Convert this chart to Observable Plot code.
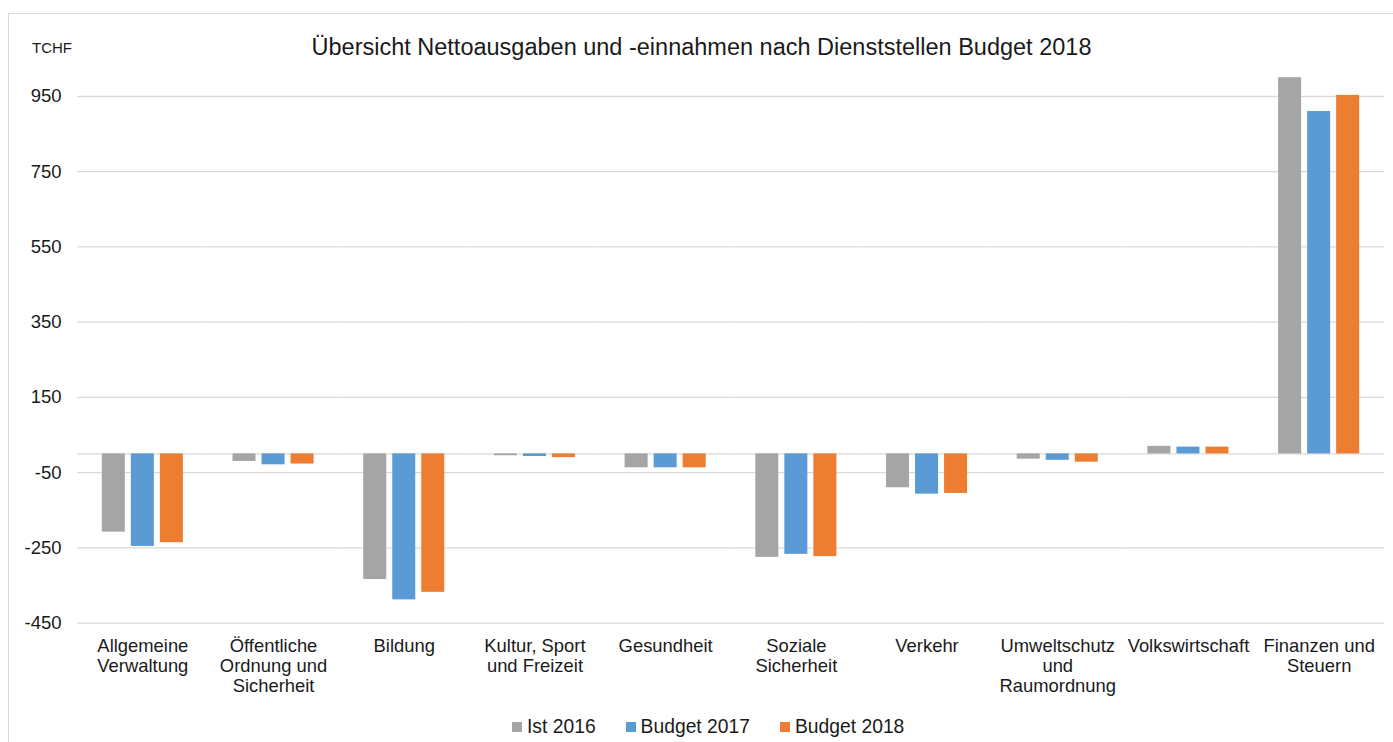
<!DOCTYPE html>
<html>
<head>
<meta charset="utf-8">
<script src="https://cdn.jsdelivr.net/npm/d3@7"></script>
<script src="https://cdn.jsdelivr.net/npm/@observablehq/plot@0.6"></script>
<style>
  html, body { margin: 0; padding: 0; background: #fff; }
  #wrap { position: relative; width: 1393px; height: 742px; overflow: hidden;
          font-family: "Liberation Sans", Arial, sans-serif; color: #1a1a1a; }
  #frame { position: absolute; left: 8px; top: 13px; width: 1400px; height: 760px;
           border-left: 1px solid #d9d9d9; border-top: 1px solid #d9d9d9; }
  #tchf { position: absolute; left: 32px; top: 40px; font-size: 15px; line-height: 15px; }
  #title { position: absolute; left: 0; top: 36px; width: 1403px; text-align: center;
           font-size: 23.5px; line-height: 23.5px; white-space: nowrap; }
  #chart { position: absolute; left: 0; top: 60px; }
  #legend { position: absolute; left: 512px; top: 717px; display: flex; align-items: center;
            font-size: 19.3px; line-height: 19.3px; white-space: nowrap; }
  .item { display: inline-flex; align-items: center; margin-right: 30px; }
  .sw { width: 10px; height: 10px; margin-right: 5px; display: inline-block; }
</style>
</head>
<body>
<div id="wrap">
  <div id="frame"></div>
  <div id="tchf">TCHF</div>
  <div id="title">Übersicht Nettoausgaben und -einnahmen nach Dienststellen Budget 2018</div>
  <div id="chart"></div>
  <div id="legend"></div>
</div>
<script>
const categories = ["Allgemeine Verwaltung", "Öffentliche Ordnung und Sicherheit", "Bildung",
  "Kultur, Sport und Freizeit", "Gesundheit", "Soziale Sicherheit", "Verkehr",
  "Umweltschutz und Raumordnung", "Volkswirtschaft", "Finanzen und Steuern"];
const categoryLabels = ["Allgemeine\nVerwaltung", "Öffentliche\nOrdnung und\nSicherheit", "Bildung",
  "Kultur, Sport\nund Freizeit", "Gesundheit", "Soziale\nSicherheit", "Verkehr",
  "Umweltschutz\nund\nRaumordnung", "Volkswirtschaft", "Finanzen und\nSteuern"];
const seriesNames = ["Ist 2016", "Budget 2017", "Budget 2018"];
const seriesColors = ["#A5A5A5", "#5B9BD5", "#ED7D31"];
const ist2016    = [-208, -20, -334,  -5, -37, -275,  -90, -14, 20, 1000];
const budget2017 = [-246, -29, -388,  -7, -37, -267, -107, -17, 18,  910];
const budget2018 = [-236, -27, -368, -10, -37, -273, -105, -22, 18,  953];
const yTicks = [950, 750, 550, 350, 150, -50, -250, -450];

const seriesValues = [ist2016, budget2017, budget2018];
const rows = [];
categories.forEach((c, i) => {
  seriesNames.forEach((s, j) => rows.push({cat: c, series: s, value: seriesValues[j][i]}));
});
const labelRows = categories.map((c, i) => ({cat: c, label: categoryLabels[i]}));

const chart = Plot.plot({
  width: 1393,
  height: 650,
  marginLeft: 77,
  marginRight: 9,
  marginTop: 9.64,
  marginBottom: 87.3,
  style: {fontFamily: "Liberation Sans, Arial, sans-serif", fontSize: "18px", color: "#1a1a1a", background: "transparent", overflow: "visible"},
  fx: {domain: categories, padding: 0, round: false, axis: null},
  x: {domain: seriesNames, paddingInner: 0.2069, paddingOuter: 0.855, round: false, axis: null},
  y: {domain: [-450, 1020], axis: null},
  color: {domain: seriesNames, range: seriesColors},
  marks: [
    Plot.gridY(yTicks, {stroke: "#d9d9d9", strokeOpacity: 1, strokeWidth: 1.3}),
    Plot.ruleY([0], {stroke: "#d9d9d9", strokeWidth: 1.3}),
    Plot.axisY(yTicks, {anchor: "left", label: null, tickSize: 0, tickPadding: 16, fontSize: 18.5,
      fill: "#1a1a1a", tickFormat: d => String(d)}),
    Plot.barY(rows, {fx: "cat", x: "series", y: "value", fill: "series"}),
    Plot.text(labelRows, {fx: "cat", text: "label", frameAnchor: "bottom", lineAnchor: "top",
      dy: 14, lineHeight: 1.1, fontSize: 18.4, fill: "#1a1a1a"})
  ]
});
document.getElementById("chart").appendChild(chart);

const legend = document.getElementById("legend");
seriesNames.forEach((s, i) => {
  const item = document.createElement("span");
  item.className = "item";
  const sw = document.createElement("span");
  sw.className = "sw";
  sw.style.background = seriesColors[i];
  item.appendChild(sw);
  item.appendChild(document.createTextNode(s));
  legend.appendChild(item);
});
</script>
</body>
</html>
